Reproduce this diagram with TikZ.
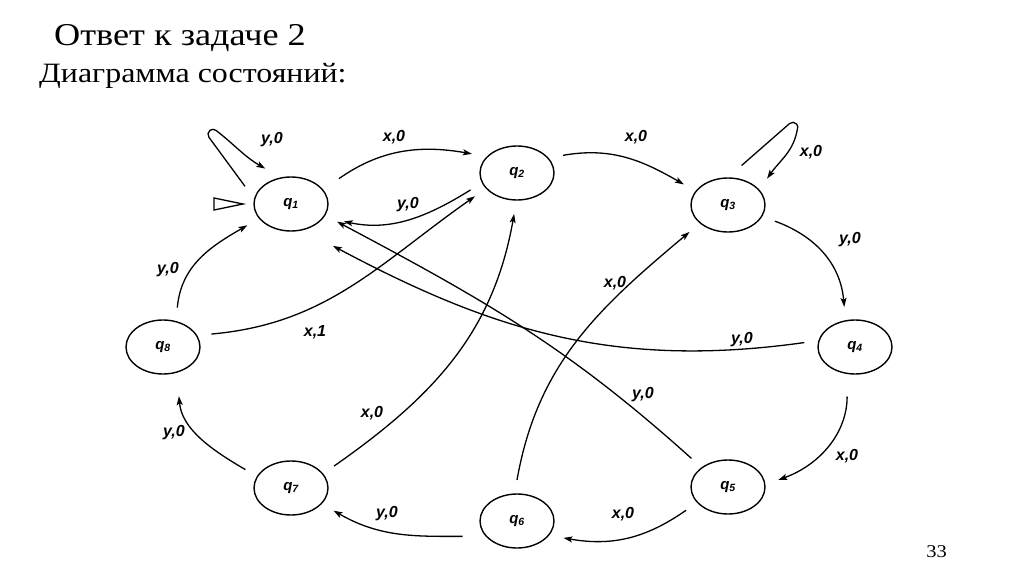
\documentclass[tikz,border=0pt]{standalone}
\usepackage{fontspec}
\setmainfont{Liberation Serif}[FakeStretch=1.14]
\setsansfont{Liberation Sans}
\usetikzlibrary{arrows.meta,shapes.geometric}

\tikzset{
  st/.style={ellipse,draw,line width=1.4pt,minimum width=74pt,minimum height=54pt,
    inner sep=0pt,outer sep=14pt,font=\sffamily\bfseries\itshape\fontsize{15}{15}\selectfont},
  lab/.style={font=\sffamily\bfseries\itshape\fontsize{16}{16}\selectfont,inner sep=0pt},
  tr/.style={line width=1.3pt,-{Stealth[length=9pt,width=6pt,inset=2pt]}},
}

\begin{document}
\begin{tikzpicture}[x=1pt,y=1pt]
  \useasboundingbox (0,0) rectangle (1024,574);
  % heading
  \node[anchor=base west,inner sep=0pt,font=\fontsize{31.8}{36}\selectfont] (title) at (54,528) {Ответ к задаче 2};
  \node[anchor=base west,inner sep=0pt,font=\fontsize{28}{30}\selectfont] (sub) at (39,491) {Диаграмма состояний:};
  \node[anchor=base east,inner sep=0pt,font=\fontsize{18}{20}\selectfont] (page) at (947,17) {33};
  % states
  \foreach \n/\x/\y in {1/291/370,2/517/401,3/728/369,4/855/227,5/728/87,6/517/53,7/291/86,8/163/227}
    \node[st] (q\n) at (\x,\y) {q\textsubscript{\n}};
  % start marker
  \draw[line width=1.3pt] ([xshift=3pt]q1.west) -- ++(-29,6) -- ++(0,-12) -- cycle;
  % transitions
  \draw[tr] (q1.159) -- ++(-36,49) arc[start angle=217,end angle=52,radius=5] to[out=-38,in=150] (q1.126);
  \draw[tr,shorten <=6pt] (q1.27) to[out=35,in=170] (q2.157);
  \draw[tr,shorten >=6pt] (q2.200) to[out=212,in=-12] (q1.-19);
  \draw[tr] (q2.21) to[out=10,in=150] (q3.155);
  \draw[tr] (q3.71) -- ++(48,42) arc[start angle=130,end angle=-26,radius=5] to[out=-100,in=55] (q3.34);
  \draw[tr] (q3.-19) to[out=-20,in=95] (q4.105);
  \draw[tr,shorten >=16pt] (q4.175) to[out=188,in=-28] (q1.-51);
  \draw[tr] (q5.142) to[out=138,in=-28] (q1.-21);
  \draw[tr,shorten <=9pt] (q4.-101) to[out=-90,in=20] (q5.8);
  \draw[tr] (q5.209) to[out=215,in=-10] (q6.-20);
  \draw[tr] (q6.90) to[out=80,in=220] (q3.215);
  \draw[tr,shorten <=7pt] (q6.198) to[out=180,in=-30] (q7.-28);
  \draw[tr] (q7.27) to[out=35,in=-100] (q2.266);
  \draw[tr,shorten >=10pt] (q7.158) to[out=150,in=-85] (q8.-69);
  \draw[tr] (q8.70) to[out=85,in=210] (q1.206);
  \draw[tr] (q8.15) to[out=5,in=215] (q2.209);
  % labels
  \foreach \n/\x/\y/\t in {1/272/434/{y,0},2/394/437/{x,0},3/408/369/{y,0},4/636/437/{x,0},
      5/811/422/{x,0},6/850/334/{y,0},7/742/234/{y,0},8/615/291/{x,0},9/643/179/{y,0},
      10/847/118/{x,0},11/623/60/{x,0},12/387/60/{y,0},13/372/161/{x,0},14/174/141/{y,0},
      15/168/304/{y,0},16/315/242/{x,1}}
    \node[lab] (l\n) at (\x,\y) {\t};
\end{tikzpicture}
\end{document}
